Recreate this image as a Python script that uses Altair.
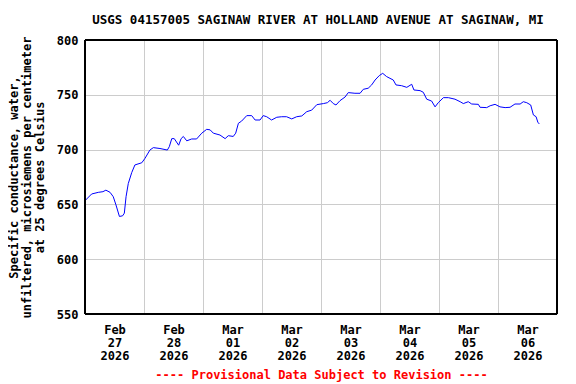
import altair as alt
import pandas as pd

# hours since 2026-02-27 00:00 and specific conductance values
hours = [0, 2.7, 5.4, 7.3, 8.5, 10.2, 11.5, 12.6, 14, 15.3, 16, 16.7, 17.6, 19, 20.3,
         23.1, 24.4, 26.4, 27.8, 30.5, 33.5, 34.3, 35.3, 36.3, 38.1, 39.1, 40, 41.4,
         43.4, 45.4, 47.5, 49.5, 50.9, 52.2, 54.9, 57, 58.3, 60.3, 61.3, 62.4, 63.7,
         65.8, 67.8, 69.2, 71.2, 72.5, 73.9, 75.9, 78, 80, 82, 84.1, 86.1, 88.2, 90.2,
         92.2, 94.3, 97, 98.6, 99.7, 101, 102.1, 103.7, 105.8, 107.1, 109.8, 111.9,
         113.2, 115.2, 116.6, 118, 119.7, 121.1, 122.7, 125.4, 126.5, 128.8, 130.9,
         132.9, 133.8, 136.3, 137.6, 139, 141, 142.4, 143.7, 145.8, 147.8, 150.5,
         152.6, 153.9, 155.9, 157.3, 160, 160.7, 163.4, 164.8, 166.8, 168.8, 170.9,
         172.9, 174.9, 177, 178.3, 179.7, 181.3, 182.4, 183.5, 184.2, 184.8]
values = [653.4, 659.5, 661, 661.6, 663, 661, 657, 649.5, 639, 639.6, 642, 657, 669,
          679, 686, 688, 692, 699.6, 701.8, 701, 699.6, 702.7, 710, 710, 704, 710, 712,
          708, 709.7, 709.7, 715, 718.5, 718, 715, 713.3, 710, 712.7, 712, 715, 724,
          726, 731, 731, 727, 727, 731, 730, 727, 729.5, 730, 730, 728, 730, 730.7,
          734.6, 736, 741, 742, 742.8, 745, 742, 740.7, 744.6, 748, 752, 751.4, 751.4,
          755, 756, 759, 763.5, 767.5, 769.6, 766.6, 763.5, 759, 758.3, 756.8, 759.6,
          754.4, 753.8, 752.3, 746, 744.3, 739, 742.8, 747.4, 747.4, 746, 743.7, 742,
          743.7, 741.6, 741.3, 738.6, 738.3, 740, 741.3, 739, 738.3, 738.6, 741.6,
          741.6, 743.7, 742.8, 740.7, 731.6, 730, 725, 723.4]

start = pd.Timestamp("2026-02-27T00:00:00Z")
df = pd.DataFrame({
    "time": [(start + pd.Timedelta(hours=h)).strftime("%Y-%m-%dT%H:%M:%SZ") for h in hours],
    "value": values,
})

tick_days = [("Feb", 27), ("Feb", 28), ("Mar", 1), ("Mar", 2), ("Mar", 3),
             ("Mar", 4), ("Mar", 5), ("Mar", 6)]
tick_vals = [alt.DateTime(year=2026, month=m, date=d, utc=True) for m, d in tick_days]

FONT = "DejaVu Sans Mono"
W, H = 472, 274

line = alt.Chart(df).mark_line(color="#0000ff", strokeWidth=1).encode(
    x=alt.X("time:T",
            scale=alt.Scale(type="utc",
                            domain=[alt.DateTime(year=2026, month="Feb", date=27, utc=True),
                                    alt.DateTime(year=2026, month="Mar", date=7, utc=True)]),
            axis=alt.Axis(values=tick_vals,
                          labelExpr="[utcFormat(datum.value, '%b'), utcFormat(datum.value, '%d'), utcFormat(datum.value, '%Y')]",
                          labelOffset=29.5, labelPadding=10, labelLineHeight=13,
                          labelFlush=False, labelOverlap=False,
                          labelFontSize=12, labelFontWeight="bold", labelColor="black",
                          labelFont=FONT, labelAngle=0,
                          tickSize=0, domain=False, grid=True, gridColor="#cccccc",
                          gridWidth=1, gridOpacity=1,
                          title="---- Provisional Data Subject to Revision ----",
                          titleColor="#ff0000", titleFont=FONT, titleFontSize=12,
                          titleFontWeight="bold", titleY=55, titleBaseline="top")),
    y=alt.Y("value:Q",
            scale=alt.Scale(domain=[550, 800], nice=False, zero=False),
            axis=alt.Axis(values=[550, 600, 650, 700, 750, 800],
                          labelFontSize=12, labelFontWeight="bold", labelColor="black",
                          labelFont=FONT, labelPadding=7, tickSize=0, domain=False,
                          grid=True, gridColor="#cccccc", gridWidth=1, gridOpacity=1,
                          title=["Specific conductance, water,",
                                 "unfiltered, microsiemens per centimeter",
                                 "at 25 degrees Celsius"],
                          titleFont=FONT, titleFontSize=12, titleFontWeight="bold",
                          titleColor="black", titleLineHeight=13,
                          titleX=-77, titleY=137, titleAngle=-90,
                          titleAlign="center", titleBaseline="top")),
)

frame = alt.Chart(df).mark_rect(fill=None, stroke="black", strokeWidth=1).encode(
    x=alt.value(0), x2=alt.value(W), y=alt.value(0), y2=alt.value(H)
)

chart = alt.layer(line, frame).properties(
    width=W,
    height=H,
    title=alt.TitleParams("USGS 04157005 SAGINAW RIVER AT HOLLAND AVENUE AT SAGINAW, MI",
                          font=FONT, fontSize=12.5, fontWeight="bold", color="black",
                          anchor="middle", frame="group", offset=8, dx=-3),
    autosize=alt.AutoSizeParams(type="none"),
    padding={"left": 77, "top": 32, "right": 11, "bottom": 68},
).configure_view(stroke=None)

chart.save("out.html", embed_options={"renderer": "svg", "actions": False})
